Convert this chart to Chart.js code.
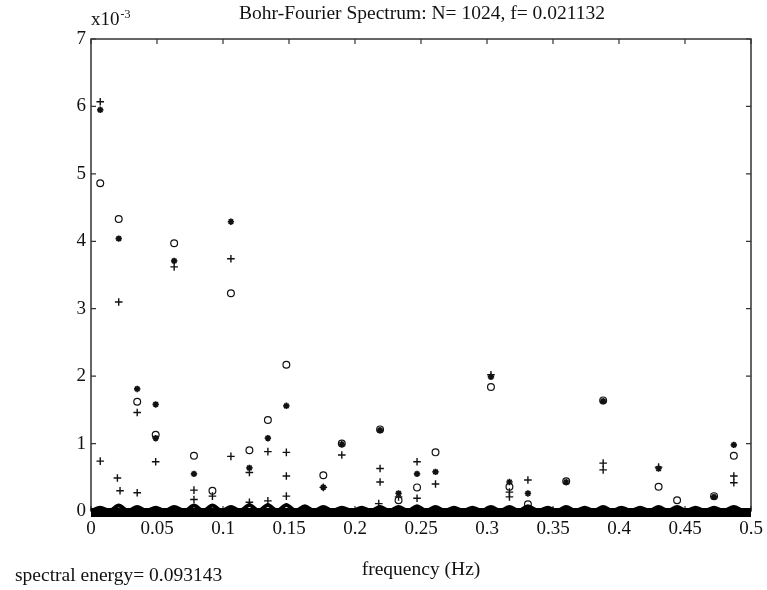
<!DOCTYPE html>
<html><head><meta charset="utf-8">
<script src="https://cdn.jsdelivr.net/npm/chart.js@4.4.0/dist/chart.umd.min.js"></script>
<style>html,body{margin:0;padding:0;background:#fff}#wrap{width:767px;height:590px}</style>
</head><body><div id="wrap"><canvas id="c" width="767" height="590"></canvas></div>
<script>
const titleText = 'Bohr-Fourier Spectrum: N= 1024, f= 0.021132';
const xAxisTitle = 'frequency (Hz)';
const footText = 'spectral energy= 0.093143';
const yScaleBase = 'x10';
const yScaleExp = '-3';

const xTickValues = [0,0.05,0.1,0.15,0.2,0.25,0.3,0.35,0.4,0.45,0.5];
const xTickLabels = ['0','0.05','0.1','0.15','0.2','0.25','0.3','0.35','0.4','0.45','0.5'];
const yTickValues = [0,1,2,3,4,5,6,7];
const yTickLabels = ['0','1','2','3','4','5','6','7'];

// 'o' markers (values in units of 1e-3)
const circFreq = [0.007,0.021,0.035,0.049,0.063,0.078,0.092,0.106,0.120,0.134,0.148,0.176,0.190,0.219,0.233,0.247,0.261,0.303,0.317,0.331,0.360,0.388,0.430,0.444,0.472,0.487];
const circVals = [4.86,4.33,1.62,1.13,3.97,0.82,0.30,3.23,0.90,1.35,2.17,0.53,1.00,1.21,0.16,0.35,0.87,1.84,0.36,0.10,0.44,1.64,0.36,0.16,0.22,0.82];

// '+' markers
const plusFreq = [0.007,0.007,0.020,0.021,0.022,0.035,0.035,0.049,0.063,0.078,0.078,0.092,0.106,0.106,0.120,0.120,0.134,0.134,0.148,0.148,0.148,0.176,0.190,0.219,0.219,0.218,0.233,0.247,0.247,0.261,0.303,0.317,0.317,0.331,0.388,0.388,0.430,0.487,0.487];
const plusVals = [6.07,0.74,0.49,3.10,0.30,1.46,0.27,0.73,3.62,0.31,0.17,0.22,3.74,0.81,0.57,0.13,0.88,0.15,0.87,0.52,0.22,0.35,0.83,0.63,0.43,0.11,0.21,0.73,0.19,0.40,2.02,0.21,0.28,0.46,0.71,0.61,0.65,0.52,0.42];

// '*' markers
const starFreq = [0.007,0.021,0.035,0.049,0.049,0.063,0.078,0.106,0.120,0.134,0.148,0.176,0.190,0.219,0.233,0.247,0.261,0.303,0.317,0.331,0.360,0.388,0.430,0.472,0.487];
const starVals = [5.95,4.04,1.81,1.58,1.08,3.71,0.55,4.29,0.64,1.08,1.56,0.35,0.99,1.20,0.26,0.55,0.58,1.99,0.43,0.26,0.43,1.63,0.63,0.21,0.98];

// dense near-zero band of the remaining spectral lines: flat floor + small bumps
const floorFreq = [0, 0.5];
const floorVals = [-0.022, -0.022];
const baseFreq = [0,0.007,0.014,0.021,0.028,0.035,0.042,0.049,0.056,0.063,0.071,0.078,0.085,0.092,0.099,0.106,0.113,0.120,0.127,0.134,0.141,0.148,0.155,0.162,0.169,0.176,0.183,0.190,0.198,0.205,0.212,0.219,0.226,0.233,0.240,0.247,0.254,0.261,0.268,0.275,0.282,0.289,0.296,0.303,0.310,0.317,0.324,0.331,0.339,0.346,0.353,0.360,0.367,0.374,0.381,0.388,0.395,0.402,0.409,0.416,0.423,0.430,0.437,0.444,0.451,0.458,0.465,0.472,0.479,0.487,0.494,0.5];
const baseVals = [0,0.05,0,0.08,0,0.06,0,0.05,0,0.06,0,0.08,0,0.08,0,0.06,0,0.09,0,0.09,0,0.09,0,0.07,0,0.06,0,0.05,0,0.05,0,0.06,0,0.06,0,0.07,0,0.06,0,0.05,0,0.05,0,0.06,0,0.06,0,0.07,0,0.05,0,0.06,0,0.05,0,0.06,0,0.05,0,0.05,0,0.06,0,0.06,0,0.05,0,0.05,0,0.06,0,0];

const pts = (f, v) => f.map((x, i) => ({x: x, y: v[i]}));
const INK = '#111';
const SERIF = '"Liberation Serif", "DejaVu Serif", serif';

const decor = {
  id: 'decor',
  beforeDatasetsDraw(chart) {
    const {ctx, chartArea: a, scales: {x, y}} = chart;
    ctx.save();
    ctx.strokeStyle = '#333';
    ctx.lineWidth = 1.5;
    ctx.strokeRect(a.left, a.top, a.right - a.left, a.bottom - a.top);
    ctx.lineWidth = 1.2;
    const tl = 5;
    xTickValues.forEach(v => {
      const px = x.getPixelForValue(v);
      ctx.beginPath();
      ctx.moveTo(px, a.bottom); ctx.lineTo(px, a.bottom - tl);
      ctx.moveTo(px, a.top); ctx.lineTo(px, a.top + tl);
      ctx.stroke();
    });
    yTickValues.forEach(v => {
      const py = y.getPixelForValue(v);
      ctx.beginPath();
      ctx.moveTo(a.left, py); ctx.lineTo(a.left + tl, py);
      ctx.moveTo(a.right, py); ctx.lineTo(a.right - tl, py);
      ctx.stroke();
    });
    ctx.restore();
  },
  afterDraw(chart) {
    const {ctx, chartArea: a} = chart;
    ctx.save();
    ctx.fillStyle = INK;
    ctx.textBaseline = 'alphabetic';
    ctx.font = '19.5px ' + SERIF;
    ctx.textAlign = 'center';
    ctx.fillText(titleText, 422, 19);
    ctx.fillText(xAxisTitle, 421, 575);
    ctx.textAlign = 'left';
    ctx.fillText(footText, 15, 581);
    ctx.font = '19px ' + SERIF;
    ctx.fillText(yScaleBase, 91, 25);
    const w = ctx.measureText(yScaleBase).width;
    ctx.font = '12px ' + SERIF;
    ctx.fillText(yScaleExp, 91 + w + 1, 18);
    ctx.restore();
  }
};

new Chart(document.getElementById('c'), {
  type: 'scatter',
  data: {
    datasets: [
      {label: 'floor', data: pts(floorFreq, floorVals), showLine: true, borderColor: '#000', borderWidth: 9,
       pointRadius: 0, clip: false, fill: false},
      {label: 'band', data: pts(baseFreq, baseVals), showLine: true, borderColor: '#000', borderWidth: 4,
       tension: 0.3, pointRadius: 0, clip: false, fill: false},
      {label: 'o', data: pts(circFreq, circVals), pointStyle: 'circle', pointRadius: 3.4,
       pointBorderWidth: 1.2, borderColor: INK, backgroundColor: 'rgba(0,0,0,0)', clip: false},
      {label: '+', data: pts(plusFreq, plusVals), pointStyle: 'cross', pointRadius: 3.8,
       pointBorderWidth: 1.4, borderColor: INK, backgroundColor: INK, clip: false},
      {label: '*', data: pts(starFreq, starVals), pointStyle: 'star', pointRadius: 3.2,
       pointBorderWidth: 1.7, borderColor: INK, backgroundColor: INK, clip: false}
    ]
  },
  options: {
    responsive: false,
    animation: false,
    devicePixelRatio: 1,
    layout: {padding: {top: 39, right: 16, left: 0, bottom: 0}},
    plugins: {legend: {display: false}, tooltip: {enabled: false}, title: {display: false}},
    scales: {
      x: {
        type: 'linear', min: 0, max: 0.5,
        afterBuildTicks: s => { s.ticks = xTickValues.map(v => ({value: v})); },
        afterFit: s => { s.height = 79; s.paddingLeft = 0; s.paddingRight = 0; },
        grid: {display: false, drawTicks: false},
        border: {display: false},
        ticks: {callback: (v, i) => xTickLabels[i], font: {family: SERIF, size: 19}, color: INK,
                padding: 7, maxRotation: 0, autoSkip: false}
      },
      y: {
        type: 'linear', min: 0, max: 7,
        afterBuildTicks: s => { s.ticks = yTickValues.map(v => ({value: v})); },
        afterFit: s => { s.width = 91; s.paddingTop = 0; s.paddingBottom = 0; },
        grid: {display: false, drawTicks: false},
        border: {display: false},
        ticks: {callback: (v, i) => yTickLabels[i], font: {family: SERIF, size: 19}, color: INK,
                padding: 5, autoSkip: false}
      }
    }
  },
  plugins: [decor]
});
</script></body></html>
